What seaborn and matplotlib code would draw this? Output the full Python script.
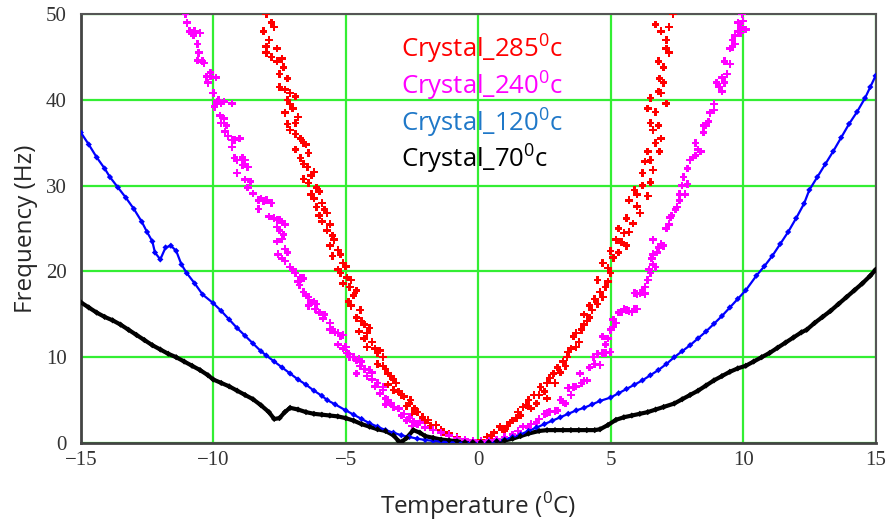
import matplotlib
matplotlib.use("Agg")
import matplotlib.pyplot as plt
import seaborn as sns
import pandas as pd

# (temperatura, frecuencia)
pts_285 = [
    (-8.0, 50.0), (-7.8, 49.0), (-8.1, 48.0), (-7.9, 47.0), (-8.0, 46.2), (-7.6, 46.0), (-7.8, 45.0),
    (-7.35, 43.8), (-7.6, 44.5), (-7.2, 42.5), (-7.5, 41.5), (-7.1, 40.8), (-7.2, 40.0), (-7.0, 39.0),
    (-7.3, 38.5), (-6.9, 37.3), (-7.1, 36.5), (-6.7, 35.5), (-6.9, 34.2), (-6.5, 34.8), (-6.7, 33.2),
    (-6.45, 32.2), (-6.3, 31.2), (-6.6, 30.8), (-6.1, 29.8), (-6.3, 29.0), (-5.9, 28.0), (-6.1, 27.5),
    (-5.7, 26.8), (-5.9, 25.8), (-5.45, 23.7), (-5.7, 24.8), (-5.3, 22.5), (-5.5, 21.8), (-5.1, 21.0),
    (-5.3, 20.2), (-4.95, 19.3), (-5.1, 18.6), (-4.85, 18.2), (-4.7, 17.2), (-4.9, 16.5), (-4.45, 15.5),
    (-4.6, 14.6), (-4.3, 13.8), (-4.5, 13.0), (-4.2, 12.8), (-4.0, 11.8), (-4.2, 11.2), (-3.8, 10.5),
    (-3.6, 10.0), (-3.8, 9.2), (-3.4, 8.1), (-3.2, 7.4), (-3.4, 6.8), (-3.0, 6.0), (-2.8, 5.4),
    (-2.55, 5.0), (-2.7, 4.3), (-2.3, 3.6), (-2.1, 3.0), (-1.9, 2.7), (-1.6, 2.1), (-1.4, 1.5),
    (-1.1, 1.1), (-0.8, 0.7), (-0.5, 0.4), (-0.2, 0.3),
    (-7.7, 48.5), (-8.0, 45.5), (-7.4, 44.8), (-7.5, 43.0), (-7.3, 41.2), (-6.9, 40.4), (-7.1, 39.5),
    (-6.8, 38.0), (-7.2, 37.2), (-6.9, 36.0), (-6.6, 35.0), (-6.4, 33.8), (-6.6, 32.5), (-6.2, 31.6),
    (-6.4, 30.3), (-6.0, 29.3), (-6.2, 28.5), (-5.8, 27.2), (-6.0, 26.5), (-5.6, 25.5), (-5.5, 24.2),
    (-5.6, 23.0), (-5.2, 22.0), (-5.0, 20.6), (-5.2, 19.8), (-4.8, 19.0), (-4.6, 17.8), (-4.8, 16.0),
    (-4.4, 14.2), (-4.1, 13.4), (-4.3, 12.2), (-3.9, 11.0), (-3.7, 10.8), (-3.6, 9.0), (-3.5, 8.6),
    (-3.3, 7.8), (-3.1, 7.0), (-3.2, 6.2), (-2.9, 5.6), (-2.6, 4.6), (-2.4, 4.0), (-2.5, 3.4),
    (-2.0, 2.4), (-1.8, 2.0), (-1.3, 1.3),
    (0.1, 0.3), (0.34, 0.7), (0.6, 1.2), (0.83, 1.9), (1.0, 1.4), (1.2, 2.4), (1.45, 2.9), (1.7, 4.2),
    (1.6, 3.2), (1.9, 5.0), (2.1, 5.6), (2.35, 6.5), (2.2, 4.6), (2.6, 7.0), (2.85, 8.1), (2.7, 7.6),
    (3.0, 8.8), (3.2, 9.5), (3.35, 10.0), (3.5, 11.0), (3.6, 12.4), (3.8, 11.8), (3.9, 13.2),
    (4.1, 14.2), (4.0, 15.0), (4.3, 15.5), (4.4, 16.8), (4.6, 17.6), (4.5, 19.0), (4.8, 18.2),
    (5.0, 19.8), (4.7, 21.0), (5.1, 21.6), (5.3, 22.2), (5.2, 23.7), (5.6, 23.0), (5.5, 24.5),
    (5.85, 25.6), (5.7, 28.3), (6.1, 26.8), (5.9, 29.5), (6.4, 28.8), (6.2, 31.5), (6.5, 30.4),
    (6.3, 32.8), (6.85, 34.0), (6.5, 33.0), (6.9, 35.5), (6.6, 36.5), (6.5, 37.3), (6.7, 38.6),
    (7.1, 39.6), (6.8, 41.0), (7.0, 43.8), (6.85, 42.5), (7.2, 45.5), (6.9, 48.0), (7.1, 47.0),
    (7.35, 50.0),
    (0.5, 0.9), (0.9, 1.6), (1.1, 2.0), (1.3, 2.6), (1.5, 3.6), (1.8, 4.4), (2.0, 4.0), (2.3, 5.6),
    (2.5, 6.0), (2.6, 5.2), (2.9, 7.0), (3.1, 8.2), (3.3, 9.0), (3.4, 10.6), (3.7, 11.2), (3.7, 12.8),
    (4.0, 13.8), (4.2, 14.6), (4.2, 16.0), (4.5, 16.2), (4.7, 17.0), (4.9, 18.8), (4.9, 20.4),
    (5.0, 22.4), (5.4, 23.4), (5.3, 25.0), (5.7, 24.6), (5.6, 26.2), (6.0, 27.6), (6.0, 29.0),
    (6.2, 30.0), (6.6, 31.8), (6.4, 34.0), (6.7, 35.0), (6.8, 37.0), (6.4, 39.0), (6.5, 40.2),
    (6.9, 40.8), (7.0, 42.0), (6.8, 44.5), (7.1, 46.0), (7.2, 48.5), (6.7, 48.8),
]

pts_240 = [
    (-11.05, 50.0), (-11.0, 49.0), (-10.9, 48.0), (-10.8, 47.8), (-10.75, 47.5), (-10.6, 46.5),
    (-10.55, 45.5), (-10.6, 44.6), (-10.35, 44.3), (-10.25, 42.7), (-10.1, 43.2), (-10.2, 42.0),
    (-10.0, 40.8), (-9.85, 39.8), (-9.7, 39.6), (-9.95, 39.2), (-9.75, 38.2), (-9.7, 37.3),
    (-9.55, 36.3), (-9.45, 35.8), (-9.2, 35.3), (-9.3, 34.5), (-9.2, 33.2), (-9.1, 33.0),
    (-8.9, 32.4), (-9.1, 31.5), (-8.8, 30.7), (-8.7, 29.8), (-8.5, 29.1), (-8.2, 28.5), (-8.0, 28.3),
    (-7.8, 28.0), (-8.3, 27.3), (-7.9, 26.4), (-7.6, 26.0), (-7.4, 25.8), (-7.6, 25.2), (-7.35, 24.3),
    (-7.6, 23.5), (-7.3, 22.6), (-7.55, 22.0), (-7.3, 21.2), (-7.1, 20.5), (-6.9, 19.8), (-6.7, 19.3),
    (-6.75, 18.4), (-6.6, 17.6), (-6.4, 17.0), (-6.2, 16.5), (-6.4, 16.0), (-6.15, 15.6), (-6.0, 15.2),
    (-5.85, 14.5), (-5.6, 14.0), (-5.5, 13.2), (-5.3, 12.8), (-5.1, 12.6), (-5.3, 11.5), (-5.1, 11.0),
    (-4.95, 10.5), (-4.85, 10.0), (-4.6, 9.6), (-4.45, 9.0), (-4.3, 8.6), (-4.6, 8.1), (-4.2, 7.8),
    (-4.0, 7.4), (-3.8, 7.0), (-3.6, 6.5), (-3.7, 5.8), (-3.5, 5.2), (-3.3, 4.6), (-3.0, 4.0),
    (-2.8, 3.4), (-2.6, 3.0), (-2.45, 2.5), (-2.3, 2.2), (-2.0, 1.8), (-1.7, 1.5), (-1.4, 1.2),
    (-1.1, 0.9), (-0.8, 0.6), (-0.5, 0.4), (-0.2, 0.3),
    (-10.7, 48.0), (-10.5, 47.8), (-10.4, 44.5), (-10.1, 42.8), (-9.9, 42.6), (-9.8, 40.0),
    (-9.6, 39.8), (-9.3, 39.6), (-9.6, 37.8), (-9.5, 37.0), (-9.0, 35.5), (-9.3, 35.3), (-8.9, 33.3),
    (-8.8, 33.0), (-8.7, 32.2), (-8.6, 30.5), (-8.3, 28.3), (-8.1, 28.2), (-7.5, 26.0), (-7.7, 26.2),
    (-7.3, 25.5), (-7.5, 24.8), (-7.4, 23.8), (-7.2, 22.2), (-7.4, 21.5), (-7.0, 20.2), (-6.6, 19.2),
    (-6.8, 18.8), (-6.5, 17.2), (-6.3, 16.4), (-6.1, 16.2), (-5.8, 15.0), (-5.6, 13.2), (-5.4, 12.9),
    (-5.2, 12.5), (-5.0, 11.2), (-4.9, 10.4), (-4.7, 10.0), (-4.5, 9.8), (-4.4, 9.5), (-4.1, 8.5),
    (-4.0, 8.2), (-3.9, 6.6), (-3.6, 6.2), (-3.5, 4.5), (-3.4, 5.0), (-3.2, 4.2), (-2.9, 3.2),
    (-2.7, 2.6), (-2.2, 2.4), (-2.5, 2.0),
    (0.1, 0.2), (0.4, 0.3), (0.7, 0.4), (1.0, 0.7), (1.3, 1.0), (1.7, 1.9), (2.0, 2.2), (2.3, 2.8),
    (2.6, 3.5), (2.9, 3.7), (3.1, 5.0), (3.3, 4.6), (3.6, 6.5), (3.5, 5.6), (3.85, 8.1), (4.0, 7.2),
    (4.35, 10.0), (4.6, 9.1), (4.7, 10.5), (5.0, 10.6), (4.7, 12.4), (4.8, 11.5), (5.1, 13.5),
    (5.2, 14.0), (5.4, 15.3), (5.6, 15.5), (5.8, 15.3), (6.0, 15.6), (5.9, 17.5), (6.1, 17.5),
    (6.3, 17.4), (6.4, 19.0), (6.45, 20.2), (6.6, 20.8), (6.55, 21.5), (6.75, 22.2), (6.6, 23.7),
    (7.0, 23.0), (7.25, 26.3), (7.1, 25.0), (7.45, 27.2), (7.6, 29.0), (7.7, 30.0), (7.75, 31.0),
    (7.9, 32.0), (8.1, 33.3), (8.2, 35.0), (8.3, 34.2), (8.5, 36.2), (8.6, 37.0), (8.75, 38.5),
    (8.9, 39.5), (9.1, 41.5), (9.2, 42.6), (9.0, 42.0), (9.3, 44.5), (9.5, 46.0), (9.6, 47.0),
    (9.7, 46.5), (9.9, 48.5), (9.8, 48.0), (10.0, 49.2), (9.95, 50.0),
    (1.5, 1.4), (1.9, 1.8), (2.2, 2.4), (2.5, 3.4), (2.7, 3.6), (3.0, 3.8), (3.2, 4.8), (3.4, 6.4),
    (3.7, 6.6), (3.9, 7.0), (4.1, 7.3), (4.2, 8.8), (4.4, 9.2), (4.5, 10.4), (4.8, 10.5), (4.9, 12.2),
    (5.0, 13.2), (5.1, 14.4), (5.3, 15.2), (5.5, 15.6), (5.7, 15.4), (5.9, 15.6), (6.0, 17.4),
    (6.2, 17.6), (6.3, 18.2), (6.5, 19.8), (6.7, 20.5), (6.6, 22.0), (6.8, 22.8), (6.9, 23.2),
    (7.2, 25.5), (7.3, 26.5), (7.5, 27.5), (7.6, 28.3), (7.8, 29.0), (7.9, 30.2), (8.0, 33.0),
    (8.2, 33.5), (8.4, 34.0), (8.5, 37.0), (8.7, 37.5), (8.9, 38.8), (9.2, 41.0), (9.3, 42.0),
    (9.4, 43.0), (9.5, 44.2), (9.6, 46.2), (9.7, 47.5), (9.9, 47.8), (10.1, 48.2), (9.8, 49.0),
]

pts_120 = [
    (-15.0, 36.2), (-14.7, 34.8), (-14.4, 33.3), (-14.1, 32.0), (-13.9, 31.0), (-13.6, 29.8),
    (-13.3, 28.6), (-13.0, 27.3), (-12.7, 25.8), (-12.5, 24.6), (-12.3, 23.5), (-12.2, 22.2),
    (-12.0, 21.4), (-11.8, 22.8), (-11.6, 23.0), (-11.4, 22.4), (-11.2, 20.8), (-11.0, 19.8),
    (-10.7, 18.6), (-10.4, 17.3), (-10.0, 16.3), (-9.7, 15.4), (-9.4, 14.4), (-9.1, 13.4),
    (-8.8, 12.5), (-8.5, 11.6), (-8.2, 10.7), (-8.0, 10.2), (-7.7, 9.5), (-7.4, 8.8), (-7.1, 8.1),
    (-6.8, 7.4), (-6.5, 6.8), (-6.2, 6.1), (-5.9, 5.5), (-5.7, 5.0), (-5.4, 4.5), (-5.0, 3.8),
    (-4.7, 3.3), (-4.4, 2.8), (-4.1, 2.3), (-3.8, 1.9), (-3.5, 1.5), (-3.2, 1.2), (-2.9, 0.9),
    (-2.6, 0.7), (-2.3, 0.5), (-2.0, 0.35), (-1.7, 0.25), (-1.4, 0.15), (-1.1, 0.1), (-0.8, 0.05),
    (-0.5, 0.05), (-0.2, 0.05),
    (0.1, 0.05), (0.4, 0.1), (0.7, 0.2), (1.0, 0.4), (1.3, 0.7), (1.6, 1.0), (1.9, 1.4), (2.2, 1.8),
    (2.5, 2.2), (2.8, 2.6), (3.1, 3.0), (3.4, 3.4), (3.7, 3.8), (4.0, 4.1), (4.3, 4.5), (4.6, 4.9),
    (5.0, 5.3), (5.3, 5.8), (5.6, 6.3), (5.9, 6.8), (6.2, 7.3), (6.5, 7.9), (6.8, 8.5), (7.1, 9.2),
    (7.4, 10.0), (7.7, 10.7), (8.0, 11.4), (8.3, 12.2), (8.6, 13.0), (8.9, 13.9), (9.2, 14.8),
    (9.5, 15.8), (9.8, 16.8), (10.1, 17.8), (10.5, 19.5), (10.8, 20.6), (11.1, 21.8), (11.4, 23.2),
    (11.7, 24.6), (12.0, 26.2), (12.3, 27.9), (12.5, 29.5), (12.8, 31.0), (13.1, 32.5), (13.4, 34.0),
    (13.7, 35.6), (14.0, 37.2), (14.3, 38.6), (14.6, 40.2), (14.8, 41.5), (15.0, 42.8),
]

pts_70 = [
    (-15.0, 16.4), (-14.7, 15.8), (-14.4, 15.2), (-14.1, 14.7), (-13.8, 14.3), (-13.5, 13.8),
    (-13.2, 13.2), (-12.9, 12.6), (-12.6, 12.0), (-12.3, 11.4), (-12.0, 10.9), (-11.7, 10.4),
    (-11.4, 10.0), (-11.1, 9.5), (-10.8, 9.0), (-10.5, 8.5), (-10.2, 7.9), (-10.0, 7.4), (-9.7, 7.0),
    (-9.4, 6.6), (-9.1, 6.1), (-8.8, 5.6), (-8.5, 5.1), (-8.2, 4.4), (-7.9, 3.6), (-7.7, 2.8),
    (-7.5, 2.9), (-7.3, 3.6), (-7.1, 4.1), (-6.8, 3.9), (-6.5, 3.6), (-6.2, 3.4), (-5.9, 3.3),
    (-5.6, 3.2), (-5.3, 3.1), (-5.0, 2.9), (-4.7, 2.6), (-4.4, 2.2), (-4.1, 1.9), (-3.8, 1.6),
    (-3.5, 1.4), (-3.2, 0.9), (-3.0, 0.2), (-2.9, 0.1), (-2.7, 0.6), (-2.45, 1.5), (-2.2, 1.2),
    (-2.0, 0.8), (-1.7, 0.6), (-1.4, 0.4), (-1.1, 0.3), (-0.8, 0.2), (-0.5, 0.1), (-0.2, 0.1),
    (0.1, 0.1), (0.4, 0.1), (0.7, 0.2), (1.0, 0.3), (1.3, 0.5), (1.6, 0.8), (1.9, 1.1), (2.3, 1.4),
    (2.6, 1.5), (2.9, 1.5), (3.2, 1.5), (3.5, 1.5), (3.8, 1.5), (4.1, 1.5), (4.4, 1.5), (4.6, 1.6),
    (4.9, 2.1), (5.2, 2.7), (5.5, 3.0), (5.8, 3.2), (6.1, 3.4), (6.4, 3.6), (6.7, 3.9), (7.0, 4.2),
    (7.4, 4.6), (7.7, 5.1), (8.0, 5.6), (8.3, 6.1), (8.6, 6.7), (8.9, 7.3), (9.2, 7.8), (9.5, 8.3),
    (9.8, 8.7), (10.1, 9.0), (10.4, 9.5), (10.7, 10.0), (11.0, 10.5), (11.3, 11.1), (11.6, 11.7),
    (11.9, 12.3), (12.2, 12.9), (12.4, 13.2), (12.7, 14.0), (13.0, 14.7), (13.3, 15.4), (13.6, 16.2),
    (13.9, 17.0), (14.2, 17.8), (14.5, 18.6), (14.8, 19.5), (15.0, 20.2),
]

labels = ["Crystal_285", "Crystal_240", "Crystal_120", "Crystal_70"]
temps = ["285", "240", "120", "70"]
colors = ["#ff0000", "#ff00ff", "#0000ff", "#000000"]
label_colors = ["#ff0000", "#ff00ff", "#1f78c8", "#000000"]

frames = []
for lab, pts in zip(labels, [pts_285, pts_240, pts_120, pts_70]):
    d = pd.DataFrame(pts, columns=["Temperature", "Frequency"])
    d["Crystal"] = lab
    frames.append(d)
df = pd.concat(frames, ignore_index=True)

sns.set_style("white")
plt.rcParams["font.family"] = ["Open Sans", "DejaVu Sans"]
plt.rcParams["mathtext.fontset"] = "custom"
plt.rcParams["mathtext.rm"] = "Open Sans"

fig = plt.figure(figsize=(8.88, 5.23), dpi=100)
ax = fig.add_axes([0.091, 0.153, 0.895, 0.82])

# lineas para las curvas mas densas (azul y negra)
sns.lineplot(data=df[df["Crystal"] == labels[3]], x="Temperature", y="Frequency", sort=False,
             estimator=None, color="black", lw=3.0, ax=ax, zorder=3)
sns.lineplot(data=df[df["Crystal"] == labels[2]], x="Temperature", y="Frequency", sort=False,
             estimator=None, color="blue", lw=1.6, ax=ax, zorder=3)

palette = dict(zip(labels, colors))
sns.scatterplot(data=df[df["Crystal"].isin(labels[:2])], x="Temperature", y="Frequency",
                hue="Crystal", palette=palette, marker="P", s=30, linewidth=0,
                legend=False, ax=ax, zorder=4)
sns.scatterplot(data=df[df["Crystal"].isin(labels[2:])], x="Temperature", y="Frequency",
                hue="Crystal", palette=palette, marker="D", s=10, linewidth=0,
                legend=False, ax=ax, zorder=4)

ax.set_xlim(-15, 15)
ax.set_ylim(0, 50)
ax.set_xticks([-15, -10, -5, 0, 5, 10, 15])
ax.set_yticks([0, 10, 20, 30, 40, 50])
ax.grid(True, color="#33ee33", lw=1.6)
ax.set_axisbelow(True)
for t in ax.get_xticklabels() + ax.get_yticklabels():
    t.set_fontfamily("Liberation Serif")
    t.set_fontsize(15)
    t.set_color("#333333")
ax.tick_params(axis="x", length=0, pad=6)
ax.tick_params(axis="y", length=0, pad=10)

for side in ["left", "bottom"]:
    ax.spines[side].set_color("#444444")
    ax.spines[side].set_linewidth(2)
for side in ["top", "right"]:
    ax.spines[side].set_color("#555555")
    ax.spines[side].set_linewidth(1.5)

ax.set_xlabel("Temperature ($^\\mathregular{0}$C)", fontsize=17.5, labelpad=14)
ax.set_ylabel("Frequency (Hz)", fontsize=17.5, labelpad=6)

# leyenda como texto coloreado
for i, (tp, c) in enumerate(zip(temps, label_colors)):
    ax.text(0.403, 0.900 - i * 0.0855, "Crystal_" + tp + "$^\\mathregular{0}$c",
            transform=ax.transAxes, color=c, fontsize=18.5, va="baseline", ha="left")

fig.savefig("out.png", dpi=100)
